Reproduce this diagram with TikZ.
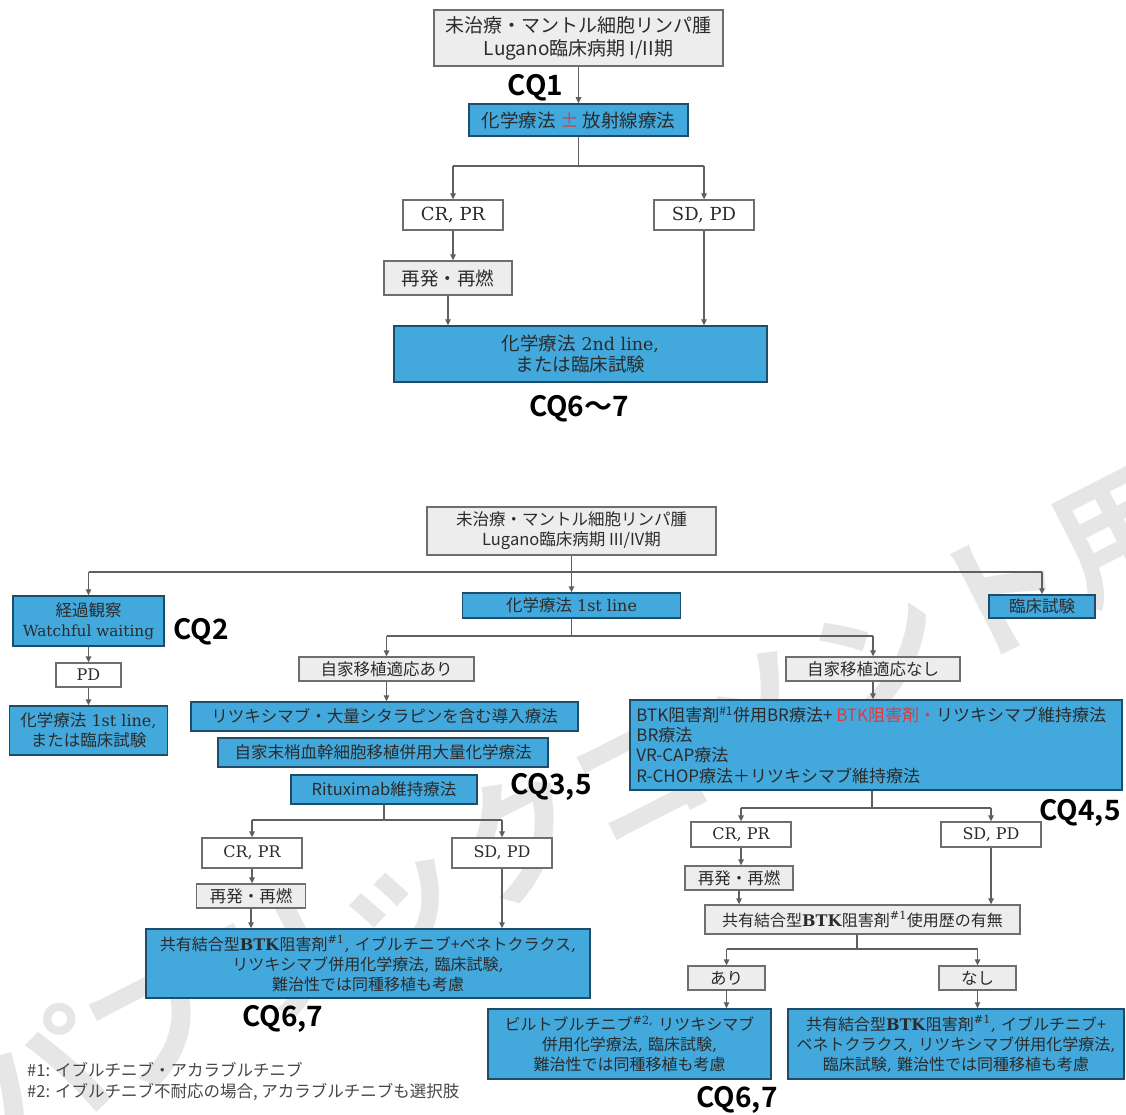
\documentclass[tikz,border=0pt]{standalone}
\usepackage{fontspec}
\usetikzlibrary{arrows.meta}
\setmainfont{DejaVu Serif}
\newfontfamily\jp{Noto Sans CJK JP}
\newfontfamily\jpb{Noto Sans CJK JP Bold}
\definecolor{boxblue}{HTML}{43A9DD}
\definecolor{boxblueline}{HTML}{1E4D6B}
\definecolor{boxgrey}{HTML}{EDEDED}
\definecolor{boxgreyline}{HTML}{6E6E6E}
\definecolor{linkgrey}{HTML}{5F5F5F}
\definecolor{txt}{HTML}{2B2B2B}
\definecolor{hl}{HTML}{E0393E}
\definecolor{wmark}{HTML}{E6E6E6}
\newcommand\J[1]{{\jp #1}}
\tikzset{
  base/.style={inner sep=0pt, align=center, text=txt},
  bbox/.style={base, draw=boxblueline, fill=boxblue, line width=1.5pt},
  gbox/.style={base, draw=boxgreyline, fill=boxgrey, line width=1.3pt},
  wbox/.style={base, draw=boxgreyline, fill=white, line width=1.3pt},
  link/.style={draw=linkgrey, line width=1.3pt},
  arr/.style={link, -{Triangle[length=6pt,width=5.5pt]}},
  cq/.style={font=\jpb\fontsize{28}{30}\selectfont, text=black, inner sep=0pt},
  fbig/.style={font=\fontsize{18}{21}\selectfont},
  fsmall/.style={font=\fontsize{16}{20}\selectfont},
  jbig/.style={font=\jp\fontsize{18.5}{21}\selectfont},
  jsmall/.style={font=\jp\fontsize{16.5}{20}\selectfont},
  sz/.style 2 args={minimum width=#1pt, minimum height=#2pt},
}
\begin{document}
\begin{tikzpicture}[x=1pt, y=-1pt]
\fill[white] (0,0) rectangle (1126,1115);
\useasboundingbox (0,0) rectangle (1126,1115);

% watermark behind everything
\node[rotate=27, font=\jpb\fontsize{135}{135}\selectfont, text=wmark, inner sep=0pt] (wm) at (578,806) {パブリックコメント用};

% ---------- stage I/II ----------
\node[gbox, sz={289}{56}, font=\jp\fontsize{19}{23}\selectfont] (t1) at (578.5,38)
  {未治療・マントル細胞リンパ腫\\Lugano臨床病期 I/II期};
\node[cq] (cq1) at (535.5,88) {CQ1};
\node[bbox, sz={219}{32}, jbig] (t2) at (578.5,120)
  {化学療法 {\color{hl}±} 放射線療法};
\node[wbox, fbig, sz={100}{30}] (t3) at (453,215) {CR, PR};
\node[wbox, fbig, sz={100}{30}] (t4) at (704,215) {SD, PD};
\node[gbox, sz={128}{34}, jbig] (t5) at (448,278) {再発・再燃};
\node[bbox, sz={373}{56}, font=\fontsize{17.5}{20.5}\selectfont] (t6) at (580.5,354)
  {{\jp\fontsize{18.5}{20.5}\selectfont 化学療法} 2nd line,\\{\jp\fontsize{18.5}{20.5}\selectfont または臨床試験}};
\node[cq] (cq67top) at (579,409) {CQ6〜7};

\coordinate (j1) at (578.5,166);
\draw[arr] (t1.south) -- (t2.north);
\draw[link] (t2.south) -- (j1);
\draw[link] (t3.north |- j1) -- (t4.north |- j1);
\draw[arr] (t3.north |- j1) -- (t3.north);
\draw[arr] (t4.north |- j1) -- (t4.north);
\draw[arr] (t3.south) -- (t3.south |- t5.north);
\draw[arr] (t5.south) -- (t5.south |- t6.north);
\draw[arr] (t4.south) -- (t4.south |- t6.north);

% ---------- stage III/IV ----------
\node[gbox, sz={289}{48}, jsmall] (b1) at (571.5,531)
  {未治療・マントル細胞リンパ腫\\Lugano臨床病期 III/IV期};
\node[bbox, sz={151}{50}, font=\fontsize{15.3}{20}\selectfont] (b2) at (88.5,621)
  {{\jp\fontsize{16.5}{20}\selectfont 経過観察}\\Watchful waiting};
\node[cq] (cq2) at (201,632) {CQ2};
\node[bbox, fsmall, sz={218}{25}] (b3) at (571.5,605.5) {\J{\fontsize{16.5}{20}\selectfont 化学療法} 1st line};
\node[bbox, sz={106}{23}, jsmall] (b4) at (1042,606.5) {臨床試験};
\node[wbox, fsmall, sz={65}{24}] (b5) at (88.5,675) {PD};
\node[bbox, fsmall, sz={158}{49}] (b6) at (88.5,730.5)
  {\J{\fontsize{16.5}{20}\selectfont 化学療法} 1st line,\\\J{\fontsize{16.5}{20}\selectfont または臨床試験}};

\coordinate (j2) at (571.5,572);
\draw[arr] (b1.south) -- (b3.north);
\draw[link] (b2.north |- j2) -- (b4.north |- j2);
\draw[arr] (b2.north |- j2) -- (b2.north);
\draw[arr] (b4.north |- j2) -- (b4.north);
\draw[arr] (b2.south) -- (b5.north);
\draw[arr] (b5.south) -- (b6.north);

% transplant eligible
\node[gbox, sz={175}{24}, jsmall] (b7) at (386.5,669) {自家移植適応あり};
\node[bbox, sz={387}{29}, jsmall] (b9) at (384.5,716.5)
  {リツキシマブ・大量シタラピンを含む導入療法};
\node[bbox, sz={330}{29}, jsmall] (b10) at (383,752.5)
  {自家末梢血幹細胞移植併用大量化学療法};
\node[bbox, sz={186}{29}, jsmall] (b11) at (384,789.5)
  {Rituximab維持療法};
\node[cq] (cq35) at (551,787) {CQ3,5};
\node[wbox, fsmall, sz={100}{30}] (b12) at (252,853) {CR, PR};
\node[wbox, fsmall, sz={100}{30}] (b13) at (502,853) {SD, PD};
\node[gbox, sz={109}{24}, jsmall] (b14) at (251,896) {再発・再燃};
\node[bbox, fsmall, sz={444}{69}] (b15) at (368,963.5)
  {\J{共有結合型}\textbf{BTK}\J{阻害剤}\textsuperscript{\#1}, \J{イブルチニブ+ベネトクラクス},\\
   \J{リツキシマブ併用化学療法}, \J{臨床試験},\\
   \J{難治性では同種移植も考慮}};
\node[cq] (cq67a) at (283,1019) {CQ6,7};

\coordinate (j3) at (571.5,636);
\draw[link] (b3.south) -- (j3);
\draw[arr] (b7.south) -- (b7.south |- b9.north);
\coordinate (j4) at (384,820);
\draw[link] (b11.south) -- (j4);
\draw[link] (b12.north |- j4) -- (b13.north |- j4);
\draw[arr] (b12.north |- j4) -- (b12.north);
\draw[arr] (b13.north |- j4) -- (b13.north);
\draw[arr] (b12.south) -- (b12.south |- b14.north);
\draw[arr] (b14.south) -- (b14.south |- b15.north);
\draw[arr] (b13.south) -- (b13.south |- b15.north);

% transplant ineligible
\node[gbox, sz={174}{24}, jsmall] (b8) at (873,669) {自家移植適応なし};
\node[bbox, sz={492}{90}] (b16) at (876,745) {};
\node[base, anchor=west, align=left, font=\jp\fontsize{17}{20.3}\selectfont] (b16t) at ([xshift=7pt]b16.west)
  {BTK阻害剤\textsuperscript{\#1}併用BR療法+ {\color{hl}BTK阻害剤・}リツキシマブ維持療法\\
   BR療法\\
   VR-CAP療法\\
   R-CHOP療法＋リツキシマブ維持療法};
\node[cq] (cq45) at (1080,813) {CQ4,5};
\node[wbox, fsmall, sz={100}{25}] (b17) at (741,834.5) {CR, PR};
\node[wbox, fsmall, sz={100}{25}] (b18) at (991,834.5) {SD, PD};
\node[gbox, sz={108}{24}, jsmall] (b19) at (739,878) {再発・再燃};
\node[gbox, fsmall, sz={315}{29}] (b20) at (862.5,919.5)
  {\J{共有結合型}\textbf{BTK}\J{阻害剤}\textsuperscript{\#1}\J{使用歴の有無}};
\node[gbox, sz={77}{24}, jsmall] (b21) at (726.5,978) {あり};
\node[gbox, sz={77}{24}, jsmall] (b22) at (977.5,978) {なし};
\node[bbox, fsmall, sz={283}{70}] (b23) at (629.5,1044)
  {\J{ビルトブルチニブ}\textsuperscript{\#2,} \J{リツキシマブ}\\
   \J{併用化学療法}, \J{臨床試験},\\
   \J{難治性では同種移植も考慮}};
\node[bbox, fsmall, sz={336}{70}] (b24) at (956,1044)
  {\J{共有結合型}\textbf{BTK}\J{阻害剤}\textsuperscript{\#1}, \J{イブルチニブ+}\\
   \J{ベネトクラクス}, \J{リツキシマブ併用化学療法},\\
   \J{臨床試験}, \J{難治性では同種移植も考慮}};
\node[cq] (cq67b) at (737,1100) {CQ6,7};

\draw[link] (b3.north |- j3) -- (j3);
\draw[link] (b7.north |- j3) -- (b8.north |- j3);
\draw[arr] (b7.north |- j3) -- (b7.north);
\draw[arr] (b8.north |- j3) -- (b8.north);
\draw[arr] (b8.south) -- (b8.south |- b16.north);
\coordinate (j5) at (872,808);
\draw[link] (j5 |- b16.south) -- (j5);
\draw[link] (b17.north |- j5) -- (b18.north |- j5);
\draw[arr] (b17.north |- j5) -- (b17.north);
\draw[arr] (b18.north |- j5) -- (b18.north);
\draw[arr] (b17.south) -- (b17.south |- b19.north);
\draw[arr] (b19.south) -- (b19.south |- b20.north);
\draw[arr] (b18.south) -- (b18.south |- b20.north);
\coordinate (j6) at (857,949);
\draw[link] (j6 |- b20.south) -- (j6);
\draw[link] (b21.north |- j6) -- (b22.north |- j6);
\draw[arr] (b21.north |- j6) -- (b21.north);
\draw[arr] (b22.north |- j6) -- (b22.north);
\draw[arr] (b21.south) -- (b21.south |- b23.north);
\draw[arr] (b22.south) -- (b22.south |- b24.north);

% footnotes
\node[anchor=west, align=left, inner sep=0pt, text=black!72, font=\jp\fontsize{16.5}{21}\selectfont] (fn) at (27,1081.5)
  {\#1: イブルチニブ・アカラブルチニブ\\\#2: イブルチニブ不耐応の場合, アカラブルチニブも選択肢};
\end{tikzpicture}
\end{document}
